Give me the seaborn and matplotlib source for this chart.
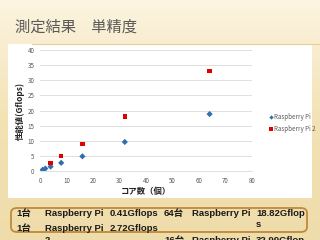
import numpy as np
import pandas as pd
import matplotlib
matplotlib.use("Agg")
import matplotlib.pyplot as plt
from matplotlib.patches import FancyBboxPatch, Rectangle
import seaborn as sns

# data
pi1_cores = [1, 2, 4, 8, 16, 32, 64]
pi1_gflops = [0.41, 0.8, 1.45, 2.7, 4.85, 9.6, 18.82]
pi2_cores = [4, 8, 16, 32, 64]
pi2_gflops = [2.72, 5.05, 8.9, 18.0, 32.99]
series_names = ["Raspberry Pi", "Raspberry Pi 2"]
x_ticks = [0, 10, 20, 30, 40, 50, 60, 70, 80]
y_ticks = [0, 5, 10, 15, 20, 25, 30, 35, 40]

df = pd.concat([
    pd.DataFrame({"cores": pi1_cores, "gflops": pi1_gflops, "board": series_names[0]}),
    pd.DataFrame({"cores": pi2_cores, "gflops": pi2_gflops, "board": series_names[1]}),
])

sns.set_style("white")
plt.rcParams['font.family'] = ['Noto Sans CJK JP', 'DejaVu Sans']

fig = plt.figure(figsize=(3.2, 2.4), dpi=100)

# slide background (cream gradient)
bg = fig.add_axes([0, 0, 1, 1], zorder=-10)
grad = np.linspace(0, 1, 100).reshape(-1, 1)
cmap = matplotlib.colors.LinearSegmentedColormap.from_list("slide", ["#fcf4e0", "#f3e2b4", "#efdcab"])
bg.imshow(grad, aspect="auto", cmap=cmap, extent=[0, 1, 0, 1], origin="upper")
bg.set_xlim(0, 1)
bg.set_ylim(0, 1)
bg.axis("off")
# white chart panel
bg.add_patch(Rectangle((8 / 320, 1 - 198 / 240), 304 / 320, 154 / 240,
                       facecolor="white", edgecolor="none"))
# title underline
bg.plot([0.1, 1.0], [1 - 44 / 240, 1 - 44 / 240], color="#e6cf96", lw=0.8)
# table box
bg.add_patch(FancyBboxPatch((11 / 320, 1 - 232 / 240), 296 / 320, 24 / 240,
                            boxstyle="round,pad=0,rounding_size=0.02",
                            facecolor="none", edgecolor="#c08a3a", lw=1.3))

fig.text(15 / 320, 1 - 32 / 240, "測定結果　単精度", fontsize=11, color="#595959")

ax = fig.add_axes([40 / 320, 1 - 171 / 240, 212 / 320, 121 / 240])
sns.scatterplot(data=df, x="cores", y="gflops", hue="board", style="board",
                palette=["#2f6fae", "#e00000"], markers=["D", "s"],
                s=10, edgecolor="none", ax=ax, zorder=3)
ax.set_xlim(0, 80)
ax.set_ylim(0, 40)
ax.set_xticks(x_ticks)
ax.set_yticks(y_ticks)
ax.tick_params(labelsize=4.5, colors="#595959", length=0, pad=4)
ax.grid(axis="y", color="#d9d9d9", lw=0.6)
for side in ["top", "right", "left"]:
    ax.spines[side].set_visible(False)
ax.spines["bottom"].set_color("#d9d9d9")
ax.spines["bottom"].set_linewidth(0.6)
ax.set_facecolor("none")
ax.set_xlabel("コア数（個）", fontsize=6, fontweight="bold", color="#222222", labelpad=2)
ax.set_ylabel("性能値(Gflops)", fontsize=6, fontweight="bold", color="#222222", labelpad=2)

leg = ax.legend(loc="center left", bbox_to_anchor=(262 / 320, 1 - 123 / 240),
                bbox_transform=fig.transFigure, frameon=False, fontsize=4.5,
                handletextpad=0.1, handlelength=1.0, labelspacing=0.6, markerscale=0.7)
for t in leg.get_texts():
    t.set_color("#595959")

# table text (last row is cut by the slide edge, as in the original)
rows = [
    (216, ["1台", "Raspberry Pi", "0.41Gflops", "64台", "Raspberry Pi", "18.82Gflop"]),
    (231, ["1台", "Raspberry Pi", "2.72Gflops", "", "", ""]),
    (243, ["", "2", "", "16台", "Raspberry Pi", "32.99Gflop"]),
]
cols = [16, 45, 110, 164, 192, 256]
tfont = ['Liberation Sans', 'Noto Sans CJK JP']
for y, cells in rows:
    for x, txt in zip(cols, cells):
        if txt:
            fig.text(x / 320, 1 - y / 240, txt, fontsize=6.8, fontweight="bold",
                     color="#1a1a1a", va="baseline", family=tfont)
fig.text(256 / 320, 1 - 227 / 240, "s", fontsize=6.8, fontweight="bold",
         color="#1a1a1a", va="baseline", family=tfont)

fig.savefig("out.png", dpi=100)
